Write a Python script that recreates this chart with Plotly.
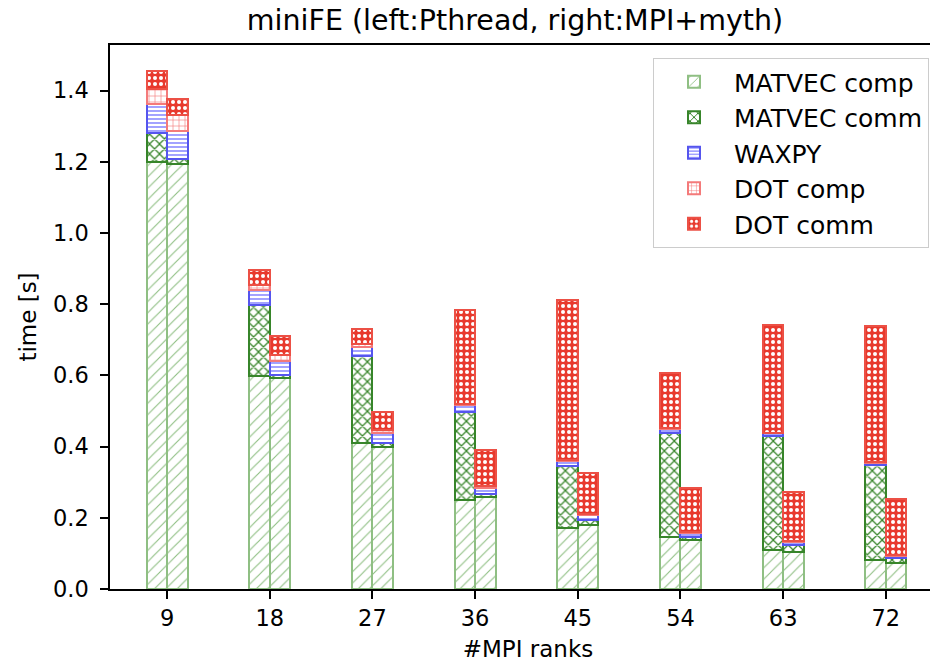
import plotly.graph_objects as go

ranks = [9, 18, 27, 36, 45, 54, 63, 72]
tick_labels = ["9", "18", "27", "36", "45", "54", "63", "72"]
components = ["MATVEC comp", "MATVEC comm", "WAXPY", "DOT comp", "DOT comm"]

# Pthread (left bars)
pth_matvec_comp = [1.198, 0.597, 0.411, 0.250, 0.170, 0.147, 0.109, 0.081]
pth_matvec_comm = [0.084, 0.202, 0.243, 0.247, 0.176, 0.292, 0.322, 0.267]
pth_waxpy       = [0.080, 0.040, 0.026, 0.019, 0.013, 0.010, 0.006, 0.006]
pth_dot_comp    = [0.043, 0.014, 0.009, 0.005, 0.003, 0.003, 0.002, 0.002]
pth_dot_comm    = [0.050, 0.042, 0.042, 0.264, 0.449, 0.156, 0.302, 0.382]

# MPI+myth (right bars)
myth_matvec_comp = [1.195, 0.593, 0.399, 0.259, 0.181, 0.137, 0.103, 0.072]
myth_matvec_comm = [0.012, 0.007, 0.010, 0.009, 0.013, 0.010, 0.022, 0.014]
myth_waxpy       = [0.079, 0.041, 0.029, 0.017, 0.013, 0.011, 0.008, 0.007]
myth_dot_comp    = [0.044, 0.015, 0.008, 0.005, 0.003, 0.002, 0.002, 0.002]
myth_dot_comm    = [0.046, 0.054, 0.051, 0.100, 0.115, 0.124, 0.138, 0.157]

left = [pth_matvec_comp, pth_matvec_comm, pth_waxpy, pth_dot_comp, pth_dot_comm]
right = [myth_matvec_comp, myth_matvec_comm, myth_waxpy, myth_dot_comp, myth_dot_comm]

BAR_W = 1.8
xs = [r - BAR_W / 2 for r in ranks] + [r + BAR_W / 2 for r in ranks]

styles = [
    dict(shape="/", fg="#8fbf83", bg="white", line="#8fbf83", size=8, sol=0.14),
    dict(shape="x", fg="#37852a", bg="white", line="#37852a", size=7, sol=0.32),
    dict(shape="-", fg="#6565ff", bg="white", line="#5555ee", size=4, sol=0.3),
    dict(shape="+", fg="#f47a7a", bg="white", line="#f47a7a", size=6, sol=0.2),
    dict(shape=".", fg="white", bg="#e8392d", line="#ec5045", size=6, sol=0.35),
]

fig = go.Figure()
for name, lv, rv, st in zip(components, left, right, styles):
    fig.add_trace(go.Bar(
        x=xs, y=lv + rv, width=BAR_W, name=name, legendgroup=name,
        marker=dict(
            color=st["bg"],
            line=dict(color=st["line"], width=2),
            pattern=dict(shape=st["shape"], fgcolor=st["fg"], bgcolor=st["bg"],
                         size=st["size"], solidity=st["sol"], fillmode="replace"),
        ),
    ))

font = "DejaVu Sans, Liberation Sans, sans-serif"
# the plot area runs past the right edge of the window, as in the reference
PLOT_W = 836
fig.update_layout(
    width=110 + PLOT_W, height=662,
    barmode="stack",
    paper_bgcolor="white", plot_bgcolor="white",
    margin=dict(l=110, r=0, t=45, b=73, autoexpand=False),
    font=dict(family=font, size=23, color="black"),
    title=dict(text="miniFE (left:Pthread, right:MPI+myth)",
               x=(515 - 110) / PLOT_W, xanchor="center",
               xref="paper", yref="container", y=1 - 20 / 662, yanchor="middle",
               font=dict(size=28.5, family=font)),
    xaxis=dict(range=[4, 77.27], tickvals=ranks, ticktext=tick_labels, ticks="outside",
               ticklen=8, tickwidth=1.5, tickcolor="black", showline=True, linecolor="black",
               linewidth=1.5, mirror=True, showgrid=False, zeroline=False, automargin=False,
               title=dict(text="#MPI ranks", standoff=14, font=dict(size=23)),
               tickfont=dict(size=22.5)),
    yaxis=dict(range=[0, 1.528], tickvals=[0, 0.2, 0.4, 0.6, 0.8, 1.0, 1.2, 1.4],
               tickformat=".1f", ticks="outside", ticklen=8, tickwidth=1.5, tickcolor="black",
               showline=True, linecolor="black", linewidth=1.5, mirror=False, showgrid=False,
               zeroline=False, automargin=False, ticklabelstandoff=7,
               title=dict(text="time [s]", standoff=10, font=dict(size=23)),
               tickfont=dict(size=22.5)),
    legend=dict(x=(653 - 110) / PLOT_W, y=1 - (58 - 45) / 544, xanchor="left", yanchor="top",
                bgcolor="white", bordercolor="#cccccc", borderwidth=1, font=dict(size=25),
                itemwidth=70, tracegroupgap=8, traceorder="normal"),
    showlegend=True,
)

fig.write_html("out.html", config={"displayModeBar": False},
               post_script="document.body.style.margin='0';document.body.style.overflow='hidden';")
